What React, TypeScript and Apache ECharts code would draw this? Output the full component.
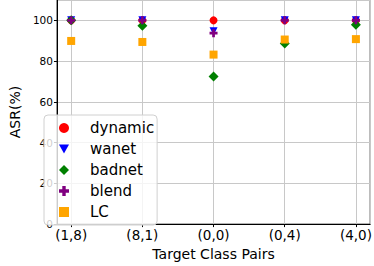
import React, { useEffect, useRef } from "react";
import * as echarts from "echarts";

const categories = ["(1,8)", "(8,1)", "(0,0)", "(0,4)", "(4,0)"];
const dynamicVals = [100, 100, 100, 100, 100];
const wanetVals = [100, 100, 94.6, 100, 100];
const badnetVals = [100, 97.3, 72.5, 88.6, 97.8];
const blendVals = [100, 100, 93.7, 100, 100];
const lcVals = [89.9, 89.4, 83.2, 90.6, 90.8];
const yTicks = [0, 20, 40, 60, 80, 100];

const PLUS = "path://M3.3,0H6.7V3.3H10V6.7H6.7V10H3.3V6.7H0V3.3H3.3Z";
const TRI_DOWN = "path://M0,0H10L5,9Z";

const FONT = "DejaVu Sans";

export default function App() {
  const ref = useRef<HTMLDivElement>(null);
  useEffect(() => {
    document.body.style.margin = "0";
    const chart = echarts.init(ref.current!, null, { renderer: "svg" });
    const toData = (arr: number[]) => arr.map((v, i) => [i, v]);
    const seriesDefs = [
      { name: "dynamic", data: dynamicVals, symbol: "circle", size: 8, color: "#ff0000" },
      { name: "wanet", data: wanetVals, symbol: TRI_DOWN, size: 8, color: "#0000ff" },
      { name: "badnet", data: badnetVals, symbol: "diamond", size: [10, 10], color: "#008000" },
      { name: "blend", data: blendVals, symbol: PLUS, size: 8, color: "#800080" },
      { name: "LC", data: lcVals, symbol: "rect", size: 8, color: "#ffa500" },
    ];
    chart.setOption({
      animation: false,
      textStyle: { fontFamily: FONT },
      grid: {
        left: 37,
        right: 2,
        top: 0,
        bottom: 34,
        show: true,
        borderColor: "#444",
        borderWidth: 1,
      },
      xAxis: {
        type: "value",
        min: -0.2,
        max: 4.2,
        name: "Target Class Pairs",
        nameLocation: "middle",
        nameGap: 18,
        nameTextStyle: { fontSize: 14, color: "#000", fontFamily: FONT },
        axisLine: { show: true, onZero: false, lineStyle: { color: "#000", width: 1 } },
        axisTick: { show: true, length: 3, lineStyle: { color: "#000" } },
        axisLabel: {
          margin: 4,
          fontSize: 13.5,
          color: "#000",
          fontFamily: FONT,
          showMinLabel: false,
          showMaxLabel: false,
          formatter: (v: number) => {
            const r = Math.round(v);
            return Math.abs(v - r) < 1e-6 && r >= 0 && r < categories.length ? categories[r] : "";
          },
        },
        splitLine: { show: true, lineStyle: { color: "#c8c8c8", width: 1 } },
      },
      yAxis: {
        type: "value",
        min: 0,
        max: 110,
        interval: 20,
        name: "ASR(%)",
        nameLocation: "middle",
        nameGap: 22,
        nameTextStyle: { fontSize: 14, color: "#000", fontFamily: FONT },
        axisLine: { show: true, onZero: false, lineStyle: { color: "#000", width: 1 } },
        axisTick: { show: true, length: 3, lineStyle: { color: "#000" } },
        axisLabel: {
          margin: 4,
          fontSize: 10.5,
          color: "#000",
          fontFamily: FONT,
          showMaxLabel: false,
          formatter: (v: number) => (yTicks.includes(v) ? String(v) : ""),
        },
        splitLine: { show: true, lineStyle: { color: "#c8c8c8", width: 1 } },
      },
      legend: {
        orient: "vertical",
        left: 44,
        top: 115,
        padding: [5, 3, 5, 15],
        itemWidth: 10,
        itemHeight: 10,
        itemGap: 5,
        borderColor: "#d0d0d0",
        borderWidth: 1,
        borderRadius: 4,
        backgroundColor: "rgba(255,255,255,0.8)",
        textStyle: {
          fontSize: 15,
          lineHeight: 16,
          color: "#000",
          fontFamily: FONT,
          padding: [0, 0, 0, 16],
        },
        data: seriesDefs.map((s) => ({ name: s.name, icon: s.symbol })),
      },
      series: seriesDefs.map((s) => ({
        type: "scatter",
        name: s.name,
        data: toData(s.data),
        symbol: s.symbol,
        symbolSize: s.size,
        itemStyle: { color: s.color, opacity: 1 },
      })),
    });
    return () => chart.dispose();
  }, []);
  return <div ref={ref} style={{ width: 374, height: 266 }} />;
}
